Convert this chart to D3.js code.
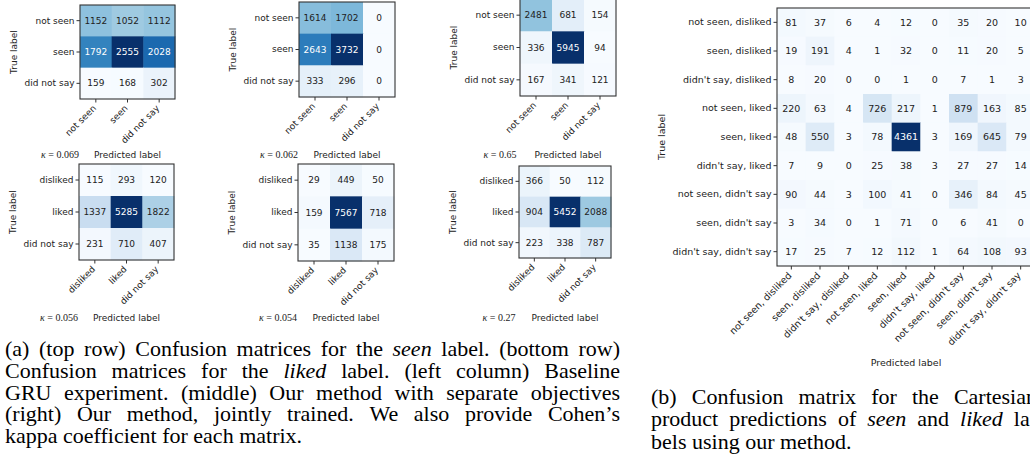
<!DOCTYPE html>
<html>
<head>
<meta charset="utf-8">
<script src="https://cdn.jsdelivr.net/npm/d3@7"></script>
<style>
  body { margin: 0; background: #fff; }
  svg { display: block; }
</style>
</head>
<body>
<svg id="fig" width="1030" height="465"></svg>
<script>
// ---- data ----
const seenLabels = ["not seen", "seen", "did not say"];
const likedLabels = ["disliked", "liked", "did not say"];
const pairLabels = [
  "not seen, disliked", "seen, disliked", "didn't say, disliked",
  "not seen, liked", "seen, liked", "didn't say, liked",
  "not seen, didn't say", "seen, didn't say", "didn't say, didn't say"
];

const seenBaseline = [[1152, 1052, 1112], [1792, 2555, 2028], [159, 168, 302]];
const seenSeparate = [[1614, 1702, 0], [2643, 3732, 0], [333, 296, 0]];
const seenJoint = [[2481, 681, 154], [336, 5945, 94], [167, 341, 121]];
const likedBaseline = [[115, 293, 120], [1337, 5285, 1822], [231, 710, 407]];
const likedSeparate = [[29, 449, 50], [159, 7567, 718], [35, 1138, 175]];
const likedJoint = [[366, 50, 112], [904, 5452, 2088], [223, 338, 787]];
const kappaValues = ["0.069", "0.062", "0.65", "0.056", "0.054", "0.27"];

const cartesian = [
  [81, 37, 6, 4, 12, 0, 35, 20, 10],
  [19, 191, 4, 1, 32, 0, 11, 20, 5],
  [8, 20, 0, 0, 1, 0, 7, 1, 3],
  [220, 63, 4, 726, 217, 1, 879, 163, 85],
  [48, 550, 3, 78, 4361, 3, 169, 645, 79],
  [7, 9, 0, 25, 38, 3, 27, 27, 14],
  [90, 44, 3, 100, 41, 0, 346, 84, 45],
  [3, 34, 0, 1, 71, 0, 6, 41, 0],
  [17, 25, 7, 12, 112, 1, 64, 108, 93]
];

const captionA = [
  "(a) (top row) Confusion matrices for the *seen* label. (bottom row)",
  "Confusion matrices for the *liked* label. (left column) Baseline",
  "GRU experiment. (middle) Our method with separate objectives",
  "(right) Our method, jointly trained. We also provide Cohen’s",
  "kappa coefficient for each matrix."
];
const captionB = [
  "(b) Confusion matrix for the Cartesian",
  "product predictions of *seen* and *liked* la-",
  "bels using our method."
];

// ---- drawing ----
const svg = d3.select("#fig");
const SANS = "DejaVu Sans, sans-serif";
const SERIF = "Liberation Serif, Times New Roman, serif";
const INK = "#222";

function drawMatrix(p) {
  const g = svg.append("g").attr("transform", `translate(${p.x},${p.y})`);
  const x = d3.scaleBand().domain(d3.range(p.cols.length)).range([0, p.w]);
  const y = d3.scaleBand().domain(d3.range(p.rows.length)).range([0, p.h]);

  // imshow-style normalisation: min..max of the matrix over the Blues map
  const [lo, hi] = d3.extent(p.values.flat());
  const color = d3.scaleLinear()
    .domain(d3.range(9).map(k => lo + (hi - lo) * k / 8))
    .range(d3.schemeBlues[9])
    .interpolate(d3.interpolateRgb);

  const cells = p.values.flatMap((row, i) => row.map((v, j) => ({ i, j, v })));

  g.selectAll("rect.cell")
    .data(cells)
    .join("rect")
    .attr("class", "cell")
    .attr("x", d => x(d.j))
    .attr("y", d => y(d.i))
    .attr("width", x.bandwidth() + 0.5)
    .attr("height", y.bandwidth() + 0.5)
    .attr("fill", d => color(d.v));

  g.selectAll("text.val")
    .data(cells)
    .join("text")
    .attr("class", "val")
    .attr("x", d => x(d.j) + x.bandwidth() / 2)
    .attr("y", d => y(d.i) + y.bandwidth() / 2)
    .attr("dy", "0.35em")
    .attr("text-anchor", "middle")
    .attr("font-family", SANS)
    .attr("font-size", p.fs)
    .attr("fill", d => d.v > hi / 2 ? "#fff" : INK)
    .text(d => d.v);

  g.append("rect")
    .attr("width", p.w)
    .attr("height", p.h)
    .attr("fill", "none")
    .attr("stroke", "#333")
    .attr("stroke-width", 1.1);

  // y axis
  const ya = g.append("g")
    .call(d3.axisLeft(y).tickFormat(i => p.rows[i]).tickSize(3.5).tickPadding(2))
    .attr("font-family", SANS)
    .attr("font-size", p.fs);
  ya.select(".domain").remove();
  ya.selectAll("line").attr("stroke", "#333");
  ya.selectAll("text").attr("fill", INK);

  // x axis, rotated labels
  const xa = g.append("g")
    .attr("transform", `translate(0,${p.h})`)
    .call(d3.axisBottom(x).tickFormat(j => p.cols[j]).tickSize(3.5))
    .attr("font-family", SANS)
    .attr("font-size", p.fs);
  xa.select(".domain").remove();
  xa.selectAll("line").attr("stroke", "#333");
  xa.selectAll("text")
    .attr("fill", INK)
    .attr("text-anchor", "end")
    .attr("x", 0).attr("y", 0).attr("dy", "0.35em")
    .attr("transform", `translate(${-p.fs * 0.15},${3.5 + p.fs * 0.45}) rotate(-45)`);

  // axis titles
  const yb = ya.node().getBBox();
  g.append("text")
    .attr("transform", `translate(${yb.x - 4 - p.fs * 0.35},${p.h / 2}) rotate(-90)`)
    .attr("text-anchor", "middle")
    .attr("font-family", SANS)
    .attr("font-size", p.fs)
    .attr("fill", INK)
    .text("True label");

  g.append("text")
    .attr("x", p.w / 2)
    .attr("y", p.labelY - p.y)
    .attr("text-anchor", "middle")
    .attr("font-family", SANS)
    .attr("font-size", p.fs)
    .attr("fill", INK)
    .text("Predicted label");

  if (p.kappa) {
    const k = g.append("text")
      .attr("x", -20)
      .attr("y", p.labelY - p.y)
      .attr("text-anchor", "middle")
      .attr("font-family", SERIF)
      .attr("font-size", p.fs + 1)
      .attr("fill", INK);
    k.append("tspan").attr("font-style", "italic").text("κ");
    k.append("tspan").text(" = " + p.kappa);
  }
}

const panels = [
  { x: 80, y: 5, w: 95, h: 94, rows: seenLabels, values: seenBaseline, kappa: kappaValues[0], labelY: 157.5 },
  { x: 299, y: 2, w: 96, h: 95, rows: seenLabels, values: seenSeparate, kappa: kappaValues[1], labelY: 157.5 },
  { x: 520, y: -1, w: 96, h: 97, rows: seenLabels, values: seenJoint, kappa: kappaValues[2], labelY: 157.5 },
  { x: 79, y: 164, w: 95, h: 96, rows: likedLabels, values: likedBaseline, kappa: kappaValues[3], labelY: 321 },
  { x: 298, y: 164, w: 96, h: 97, rows: likedLabels, values: likedSeparate, kappa: kappaValues[4], labelY: 321 },
  { x: 519, y: 166, w: 92, h: 92, rows: likedLabels, values: likedJoint, kappa: kappaValues[5], labelY: 321 }
];
panels.forEach(p => drawMatrix({ ...p, cols: p.rows, fs: 9 }));

drawMatrix({ x: 777, y: 8, w: 258, h: 258, rows: pairLabels, cols: pairLabels,
  values: cartesian, fs: 9.5, labelY: 365.5 });

// ---- captions, justified word by word ----
function drawCaption(x0, right, y0, lineH, lines, fs) {
  const g = svg.append("g")
    .attr("font-family", SERIF)
    .attr("font-size", fs)
    .attr("fill", "#000");
  const space = fs * 0.25;
  lines.forEach((line, li) => {
    const words = line.split(" ").map(w => {
      const it = /^\*.*\*[.,]?$/.test(w);
      return it ? { parts: [[w.replace(/\*/g, "").replace(/[.,]$/, ""), true], [w.match(/[.,]?$/)[0], false]] }
                : { parts: [[w, false]] };
    });
    const nodes = words.map(w => {
      const t = g.append("text").attr("y", y0 + li * lineH);
      w.parts.forEach(([s, it]) => { if (s) t.append("tspan").attr("font-style", it ? "italic" : "normal").text(s); });
      return t;
    });
    const widths = nodes.map(n => n.node().getComputedTextLength());
    const last = li === lines.length - 1;
    const gap = last ? space : (right - x0 - d3.sum(widths)) / (nodes.length - 1);
    let cx = x0;
    nodes.forEach((n, i) => { n.attr("x", cx); cx += widths[i] + gap; });
  });
}

drawCaption(5, 620, 356, 21.75, captionA, 22);
drawCaption(651, 1037, 403.5, 22.5, captionB, 22);
</script>
</body>
</html>
